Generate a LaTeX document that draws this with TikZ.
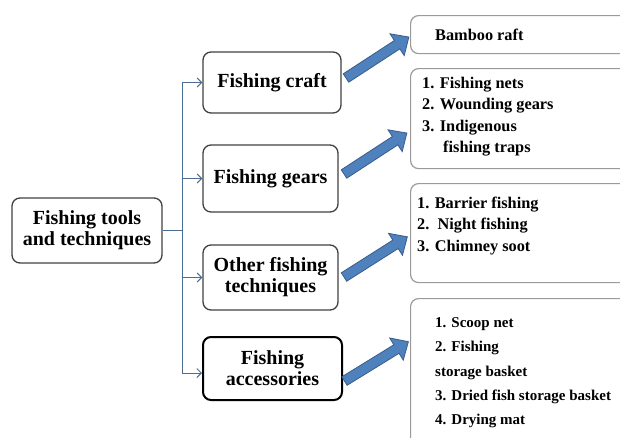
\documentclass[tikz,border=0pt]{standalone}
\usepackage{fontspec}
\setmainfont{Liberation Serif}
\usetikzlibrary{arrows.meta}
\definecolor{linkblue}{HTML}{4A6D98}
\definecolor{arrowfill}{HTML}{4F81BD}
\definecolor{arrowedge}{HTML}{385D8A}
\definecolor{listgray}{HTML}{9A9A9A}
\tikzset{
  mainbox/.style={draw=black!75, line width=1.3pt, rounded corners=8pt, align=center,
    inner sep=0pt, font=\bfseries\fontsize{20}{21}\selectfont},
  listbox/.style={draw=listgray, line width=1.2pt, rounded corners=8pt, anchor=north west,
    minimum width=240pt, inner sep=0pt},
  listtext/.style={anchor=north west, align=left, inner sep=0pt,
    font=\bfseries\fontsize{16.3}{21.3}\selectfont},
  link/.style={linkblue, line width=1pt, -{Straight Barb[length=4.5pt,width=9pt]}},
  bigarrow/.style={fill=arrowfill, draw=arrowedge, line width=0.8pt, line join=miter}
}
\begin{document}
\begin{tikzpicture}[x=1pt, y=-1pt]
  \useasboundingbox (0,0) rectangle (620,437);
  % left part
  \node[mainbox, minimum width=150pt, minimum height=65pt] (root) at (87,230.5) {Fishing tools\\and techniques};
  \node[mainbox, minimum width=138pt, minimum height=61pt] (craft) at (272,82.5) {Fishing craft};
  \node[mainbox, minimum width=135pt, minimum height=67pt] (gears) at (270.5,178.5) {Fishing gears};
  \node[mainbox, minimum width=135pt, minimum height=65pt] (other) at (270.5,277.5) {Other fishing\\techniques};
  \node[mainbox, draw=black, line width=2pt, minimum width=139pt, minimum height=63pt] (access) at (272.5,368.5) {Fishing\\accessories};
  \coordinate (hub) at (root.east -| 182,0);
  \draw[linkblue, line width=1pt] (root.east) -- (hub);
  \draw[link] (hub) |- (craft.west);
  \draw[link] (hub) |- (gears.west);
  \draw[link] (hub) |- (other.west);
  \draw[link] (hub) |- ([yshift=-4.5pt]access.west);
  % right part, cut at the page edge
  \begin{scope}
    \clip (0,0) rectangle (620,437);
    \node[listbox, minimum height=38pt] (bamboo) at (410,15) {};
    \node[listbox, minimum height=100pt] (gearlist) at (410,68) {};
    \node[listbox, minimum height=99pt] (techlist) at (410,183) {};
    \node[listbox, minimum height=160pt] (accesslist) at (410,298) {};
  \end{scope}
  \node[listtext] (bambootext) at (435,29) {Bamboo raft};
  \node[listtext] (geartext) at (422,77) {1. Fishing nets\\2. Wounding gears\\3. Indigenous\\\hspace*{21pt}fishing traps};
  \node[listtext] (techtext) at (417,197) {1. Barrier fishing\\2.\ \ Night fishing\\3. Chimney soot};
  \node[listtext, font=\bfseries\fontsize{15}{24.3}\selectfont] (accesstext) at (435,317.5)
    {1. Scoop net\\2. Fishing\\storage basket\\3. Dried fish storage basket\\4. Drying mat};
  % block arrows
  \foreach \tx/\ty/\ang in {346/78/33.1, 344/174/33.1, 344/277/32.4, 344.5/381/31.6}
    \draw[bigarrow, shift={(\tx,\ty)}, rotate=\ang]
      (0,-5) -- (61,-5) -- (61,-13) -- (75,0) -- (61,13) -- (61,5) -- (0,5) -- cycle;
\end{tikzpicture}
\end{document}
